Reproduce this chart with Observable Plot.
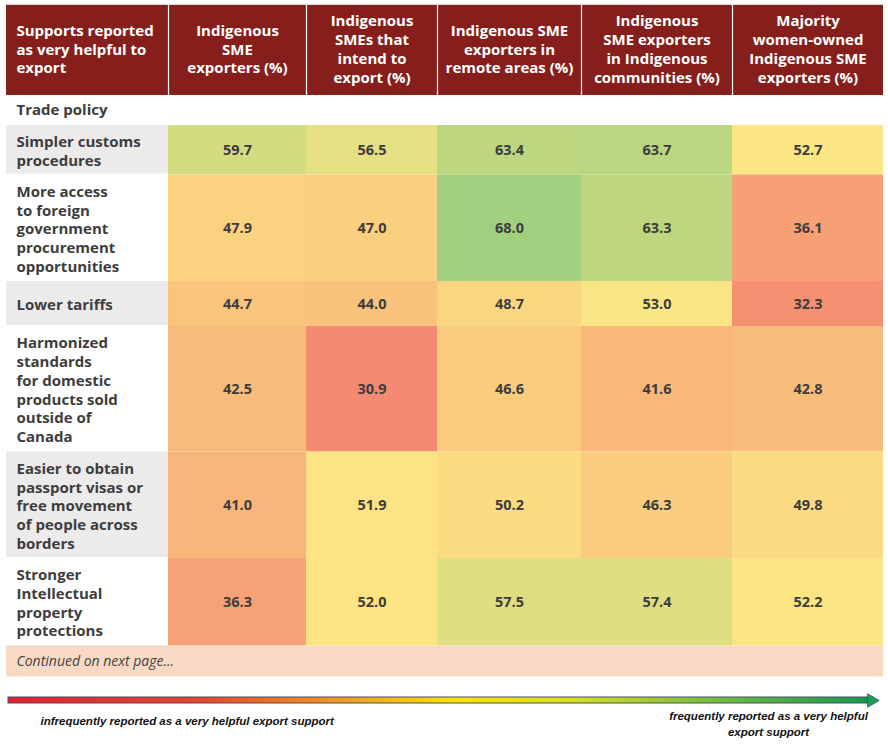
<!DOCTYPE html>
<html>
<head>
<meta charset="utf-8">
<script src="https://cdn.jsdelivr.net/npm/d3@7"></script>
<script src="https://cdn.jsdelivr.net/npm/@observablehq/plot@0.6"></script>
<style>
  html, body { margin: 0; padding: 0; background: #fff; }
  #chart svg { display: block; }
</style>
</head>
<body>
<div id="chart"></div>
<script>
// ---------------- DATA ----------------
const rowHeader = "Supports reported\nas very helpful to\nexport";
const columns = [
  "Indigenous\nSME\nexporters (%)",
  "Indigenous\nSMEs that\nintend to\nexport (%)",
  "Indigenous SME\nexporters in\nremote areas (%)",
  "Indigenous\nSME exporters\nin Indigenous\ncommunities (%)",
  "Majority\nwomen-owned\nIndigenous SME\nexporters (%)"
];
const section = "Trade policy";
const supports = [
  "Simpler customs\nprocedures",
  "More access\nto foreign\ngovernment\nprocurement\nopportunities",
  "Lower tariffs",
  "Harmonized\nstandards\nfor domestic\nproducts sold\noutside of\nCanada",
  "Easier to obtain\npassport visas or\nfree movement\nof people across\nborders",
  "Stronger\nIntellectual\nproperty\nprotections"
];
const smeExporters          = [59.7, 47.9, 44.7, 42.5, 41.0, 36.3];
const intendToExport        = [56.5, 47.0, 44.0, 30.9, 51.9, 52.0];
const remoteAreas           = [63.4, 68.0, 48.7, 46.6, 50.2, 57.5];
const indigenousCommunities = [63.7, 63.3, 53.0, 41.6, 46.3, 57.4];
const womenOwned            = [52.7, 36.1, 32.3, 42.8, 49.8, 52.2];
const footnote = "Continued on next page...";
const legendLow = "infrequently reported as a very helpful export support";
const legendHigh = "frequently reported as a very helpful\nexport support";

// ---------------- LAYOUT ----------------
const W = 888, H = 752;
const left = 6;
const colWidths = [162, 138, 131, 144, 151, 151];
const edges = [left];
colWidths.forEach(w => edges.push(edges[edges.length - 1] + w));
const headerTop = 5, headerBottom = 95, sectionBottom = 125;
const lineH = 19;
const rowHeights = supports.map(s => Math.max(45, 11.5 + lineH * s.split("\n").length));
const rowEdges = [sectionBottom];
rowHeights.forEach(h => rowEdges.push(rowEdges[rowEdges.length - 1] + h));
const tableBottom = rowEdges[rowEdges.length - 1];
const footBottom = tableBottom + 31;
const right = edges[edges.length - 1];

const series = [smeExporters, intendToExport, remoteAreas, indigenousCommunities, womenOwned];
const cells = [];
series.forEach((vals, c) => vals.forEach((v, r) => cells.push({
  value: v, x1: edges[c + 1], x2: edges[c + 2], y1: rowEdges[r], y2: rowEdges[r + 1]
})));
const labelRows = supports.map((s, r) => ({
  label: s, y1: rowEdges[r], y2: rowEdges[r + 1], shade: r % 2 === 0
}));
const headers = [{label: rowHeader, x1: edges[0], x2: edges[1], align: "start"}]
  .concat(columns.map((c, i) => ({label: c, x1: edges[i + 1], x2: edges[i + 2], align: "middle"})));

const color = d3.scaleLinear()
  .domain([30.9, 52.5, 68.0])
  .range(["#F58A72", "#FCE683", "#A1D07F"])
  .clamp(true);

const font = "'Open Sans', 'DejaVu Sans', sans-serif";
const textDark = "#3d3d3d";

const arrowY = 700, arrowX1 = 8, arrowX2 = 868;

const chart = Plot.plot({
  width: W, height: H,
  margin: 0,
  style: {fontFamily: font, background: "#fff"},
  x: {type: "linear", domain: [0, W], range: [0, W], axis: null},
  y: {type: "linear", domain: [0, H], range: [0, H], axis: null},
  marks: [
    // top thin line
    Plot.ruleY([headerTop - 1], {x1: left, x2: right, stroke: "#d9d9d9", strokeWidth: 1.5}),
    // header
    Plot.rect(headers, {x1: "x1", x2: "x2", y1: headerTop, y2: headerBottom, fill: "#861F1B"}),
    Plot.ruleX(edges.slice(1, -1), {y1: headerTop, y2: headerBottom, stroke: "#fff", strokeWidth: 1.2}),
    Plot.text(headers.filter(d => d.align === "start"), {
      x: d => d.x1 + 10, y: (headerTop + headerBottom) / 2 - 2, text: "label",
      textAnchor: "start", fill: "#fff", fontWeight: "bold", fontSize: 15, lineHeight: 1.25
    }),
    Plot.text(headers.filter(d => d.align === "middle"), {
      x: d => (d.x1 + d.x2) / 2, y: (headerTop + headerBottom) / 2 - 2, text: "label",
      textAnchor: "middle", fill: "#fff", fontWeight: "bold", fontSize: 15, lineHeight: 1.25
    }),
    // section row
    Plot.text([section], {x: left + 10, y: (headerBottom + sectionBottom) / 2, text: d => d,
      textAnchor: "start", fill: textDark, fontWeight: "bold", fontSize: 15}),
    // label column
    Plot.rect(labelRows, {x1: edges[0], x2: edges[1], y1: "y1", y2: d => d.y2 - 1,
      fill: d => d.shade ? "#ECEAEB" : "#fff"}),
    Plot.text(labelRows, {x: edges[0] + 10, y: d => (d.y1 + d.y2) / 2, text: "label",
      textAnchor: "start", fill: textDark, fontWeight: "bold", fontSize: 15, lineHeight: 1.25}),
    // heat cells
    Plot.rect(cells, {x1: "x1", x2: "x2", y1: "y1", y2: "y2", fill: d => color(d.value)}),
    Plot.text(cells, {x: d => (d.x1 + d.x2) / 2, y: d => (d.y1 + d.y2) / 2,
      text: d => d.value.toFixed(1), fill: textDark, fontWeight: "bold", fontSize: 14.5}),
    // footnote row
    Plot.rect([footnote], {x1: left, x2: right, y1: tableBottom, y2: footBottom, fill: "#F8DAC4"}),
    Plot.text([footnote], {x: left + 10, y: (tableBottom + footBottom) / 2, text: d => d,
      textAnchor: "start", fill: "#444", fontStyle: "italic", fontSize: 14}),
    // legend arrow
    Plot.rect([0], {x1: arrowX1, x2: arrowX2, y1: arrowY - 3, y2: arrowY + 3,
      fill: "url(#heatGrad)", stroke: "#4b4b6b", strokeWidth: 1}),
    Plot.dot([0], {x: arrowX2 + 3, y: arrowY, symbol: "triangle", r: 5, rotate: 90,
      fill: "#1E9E55", stroke: "#3d5a4b", strokeWidth: 0.8}),
    Plot.text([legendLow], {x: 40, y: arrowY + 21, text: d => d, textAnchor: "start",
      fill: "#111", fontWeight: "bold", fontStyle: "italic", fontSize: 11.5,
      fontFamily: "'Liberation Sans', sans-serif"}),
    Plot.text([legendHigh], {x: 768, y: arrowY + 22, text: d => d, textAnchor: "middle",
      fill: "#111", fontWeight: "bold", fontStyle: "italic", fontSize: 11.5, lineHeight: 1.4,
      fontFamily: "'Liberation Sans', sans-serif"})
  ]
});

// gradient definition for the legend arrow
const defs = d3.select(chart).insert("defs", ":first-child");
const grad = defs.append("linearGradient").attr("id", "heatGrad")
  .attr("x1", "0%").attr("x2", "100%").attr("y1", "0%").attr("y2", "0%");
[["0%", "#E2202F"], ["22%", "#E8452A"], ["40%", "#F2A21D"], ["52%", "#FFE400"],
 ["66%", "#D7DF1E"], ["82%", "#74BF3C"], ["100%", "#129A4E"]]
  .forEach(([o, c]) => grad.append("stop").attr("offset", o).attr("stop-color", c));

document.getElementById("chart").appendChild(chart);
</script>
</body>
</html>
